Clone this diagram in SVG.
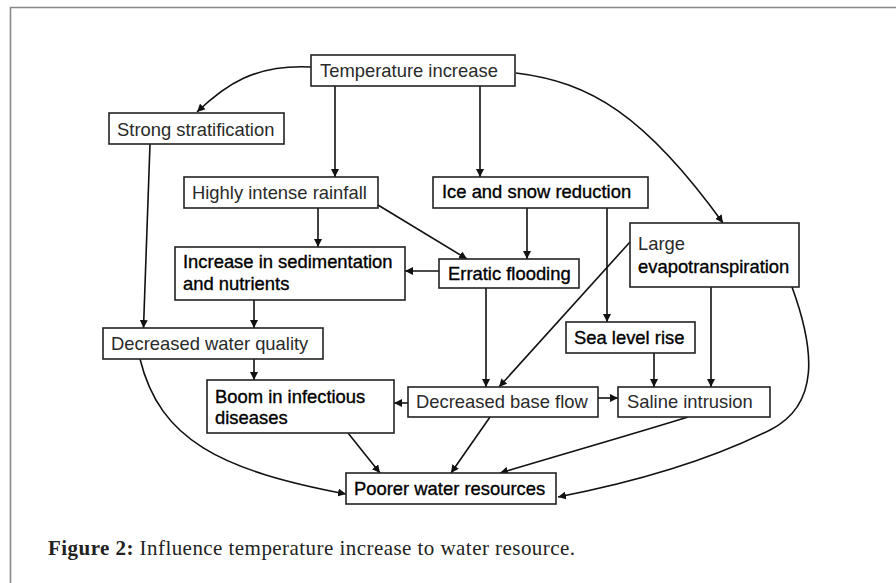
<svg xmlns="http://www.w3.org/2000/svg" width="896" height="583" viewBox="0 0 896 583">
<style>
.box{fill:#fff;stroke:#222;stroke-width:1.6}
.t{font-family:"Liberation Sans",Arial,sans-serif;font-size:18.4px;fill:#2a2a2a}
.d{fill:#000;stroke:#000;stroke-width:0.35}
.c{fill:none;stroke:#111;stroke-width:1.6;marker-end:url(#ah)}
.cap{font-family:"Liberation Serif","Times New Roman",serif;font-size:21px;fill:#222}
</style>
<defs>
<marker id="ah" viewBox="0 0 10 10" refX="10" refY="5" markerWidth="8" markerHeight="8" markerUnits="userSpaceOnUse" orient="auto">
<path d="M0,0 L10,5 L0,10 z" fill="#111"/>
</marker>
</defs>
<rect width="896" height="583" fill="#fff"/>
<path d="M10.5,583 V7.5 H896" fill="none" stroke="#888" stroke-width="1.6"/>

<g id="connectors">
<path class="c" d="M311,67 C255,64 225,85 197,112"/>
<path class="c" d="M335,86 V177"/>
<path class="c" d="M480,86 V177"/>
<path class="c" d="M516,73 C590,82 645,115 723,223"/>
<path class="c" d="M150,144 L143.5,328"/>
<path class="c" d="M318,208 V247"/>
<path class="c" d="M378,205 L467,259"/>
<path class="c" d="M527,208 V259"/>
<path class="c" d="M607,208 V322"/>
<path class="c" d="M439,271 H405"/>
<path class="c" d="M486,288 V387"/>
<path class="c" d="M630,242 L499,387"/>
<path class="c" d="M711,287 V387"/>
<path class="c" d="M792,287 C815,350 820,405 770,430 C700,465 620,485 558,497"/>
<path class="c" d="M654,353 V387"/>
<path class="c" d="M254,300 V328"/>
<path class="c" d="M254,359 V380"/>
<path class="c" d="M140,359 C160,440 220,470 346,494"/>
<path class="c" d="M408,403 H394"/>
<path class="c" d="M598,398 H618"/>
<path class="c" d="M348,433 L380,473"/>
<path class="c" d="M490,417 L451,473"/>
<path class="c" d="M688,417 C640,432 560,455 500,473"/>
</g>

<g id="temperature-increase">
<rect class="box" x="311" y="55" width="204" height="31"/>
<text class="t" x="320" y="77">Temperature increase</text>
</g>
<g id="strong-stratification">
<rect class="box" x="109" y="113" width="175" height="31"/>
<text class="t" x="117" y="136">Strong stratification</text>
</g>
<g id="highly-intense-rainfall">
<rect class="box" x="184" y="177" width="194" height="31"/>
<text class="t" x="192" y="199">Highly intense rainfall</text>
</g>
<g id="ice-snow-reduction">
<rect class="box" x="433" y="177" width="215" height="31"/>
<text class="t d" x="442" y="198">Ice and snow reduction</text>
</g>
<g id="increase-sedimentation">
<rect class="box" x="175" y="247" width="230" height="53"/>
<text class="t d" x="183" y="268">Increase in sedimentation</text>
<text class="t d" x="183" y="290">and nutrients</text>
</g>
<g id="erratic-flooding">
<rect class="box" x="439" y="259" width="140" height="29"/>
<text class="t d" x="448" y="280">Erratic flooding</text>
</g>
<g id="large-evapotranspiration">
<rect class="box" x="630" y="223" width="169" height="64"/>
<text class="t" x="638" y="250">Large</text>
<text class="t d" x="638" y="273">evapotranspiration</text>
</g>
<g id="sea-level-rise">
<rect class="box" x="566" y="322" width="129" height="31"/>
<text class="t d" x="574" y="344">Sea level rise</text>
</g>
<g id="decreased-water-quality">
<rect class="box" x="103" y="328" width="220" height="31"/>
<text class="t" x="111" y="350">Decreased water quality</text>
</g>
<g id="boom-infectious-diseases">
<rect class="box" x="207" y="380" width="187" height="53"/>
<text class="t d" x="215" y="403">Boom in infectious</text>
<text class="t d" x="215" y="424">diseases</text>
</g>
<g id="decreased-base-flow">
<rect class="box" x="408" y="387" width="190" height="30"/>
<text class="t" x="416" y="408">Decreased base flow</text>
</g>
<g id="saline-intrusion">
<rect class="box" x="618" y="387" width="152" height="30"/>
<text class="t" x="627" y="408">Saline intrusion</text>
</g>
<g id="poorer-water-resources">
<rect class="box" x="346" y="473" width="210" height="31"/>
<text class="t d" x="354" y="495">Poorer water resources</text>
</g>

<text class="cap" x="48" y="555" textLength="527" lengthAdjust="spacing"><tspan font-weight="bold">Figure 2:</tspan> Influence temperature increase to water resource.</text>
</svg>
